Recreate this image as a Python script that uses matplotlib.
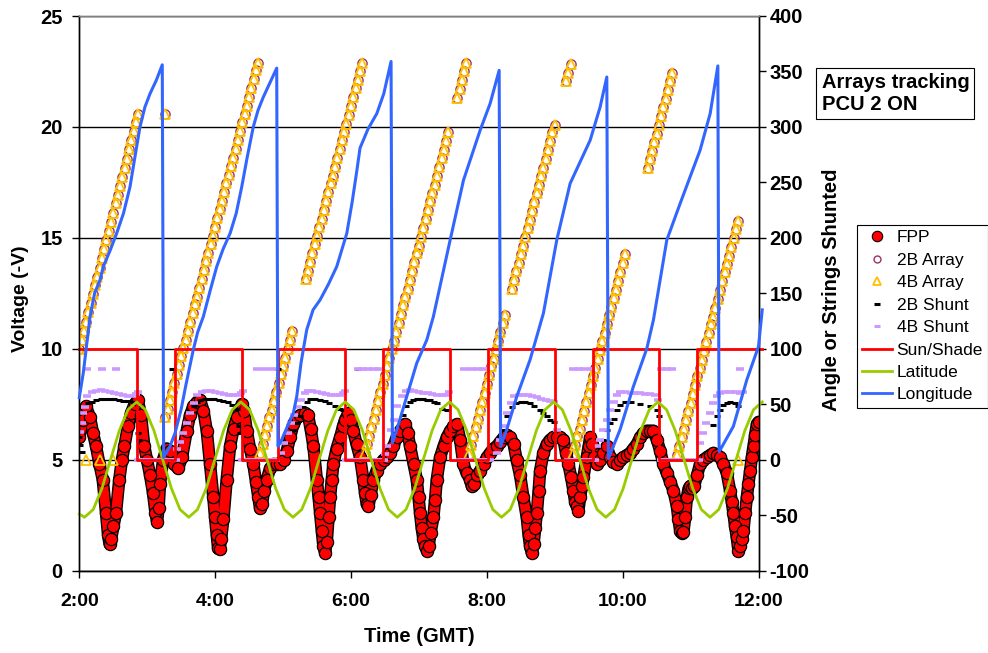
import numpy as np
import matplotlib
matplotlib.use("Agg")
import matplotlib.pyplot as plt
from matplotlib.lines import Line2D
import matplotlib.patheffects as pe

plt.rcParams['font.family'] = ['Liberation Sans', 'DejaVu Sans']
plt.rcParams['font.weight'] = 'bold'
plt.rcParams['axes.unicode_minus'] = False

# ---------------- data (time = minutes after 02:00 GMT) ----------------
x_ticks_h = [2, 4, 6, 8, 10, 12]
x_tick_labels = ["2:00", "4:00", "6:00", "8:00", "10:00", "12:00"]
volt_ticks = [0, 5, 10, 15, 20, 25]
angle_ticks = [-100, -50, 0, 50, 100, 150, 200, 250, 300, 350, 400]

# FPP voltage (-V)
fpp_points = [
    (0.0, 6.0), (3.3, 6.8), (5.9, 7.4), (9.5, 6.9), (12.1, 6.2), (14.8, 5.6), (17.8, 4.8),
    (20.7, 4.1), (23.6, 2.6), (25.4, 1.6), (26.7, 1.2), (28.0, 1.4), (30.2, 2.0), (32.4, 2.6),
    (35.3, 4.1), (37.7, 5.0), (39.8, 5.6), (43.0, 6.5), (45.7, 7.1), (48.8, 7.5), (51.6, 7.7),
    (54.5, 7.0), (57.4, 5.6), (59.8, 5.0), (62.5, 4.3), (65.1, 3.5), (67.3, 2.6), (68.7, 2.2),
    (70.0, 2.8), (71.3, 3.9), (74.0, 5.0), (77.1, 5.5), (80.1, 5.4), (83.7, 4.8), (87.2, 4.6),
    (90.7, 5.1), (94.9, 6.3), (97.8, 7.0), (100.7, 7.4), (104.0, 7.6), (106.6, 7.7), (109.7, 7.2),
    (112.6, 6.3), (115.5, 4.8), (118.4, 3.3), (119.9, 2.4), (121.4, 1.6), (122.6, 1.0), (123.9, 0.95),
    (125.2, 1.4), (127.2, 2.3), (130.2, 4.1), (133.2, 5.6), (136.3, 6.4), (139.1, 6.9), (143.5, 7.5),
    (145.5, 7.2), (147.9, 6.3), (150.8, 5.5), (153.7, 4.8), (156.1, 4.0), (158.2, 3.3), (159.7, 2.8),
    (161.4, 3.0), (163.2, 3.6), (165.6, 4.1), (168.5, 4.6), (171.4, 4.8), (174.7, 4.8), (177.3, 4.8),
    (180.4, 5.0), (183.3, 5.4), (186.2, 6.0), (189.1, 6.6), (192.4, 6.9), (195.0, 7.0), (199.5, 7.1),
    (202.1, 7.0), (204.3, 6.4), (206.8, 5.6), (209.8, 4.1), (211.4, 3.3), (212.7, 2.6), (214.2, 1.8),
    (215.6, 1.1), (217.1, 0.8), (218.6, 1.3), (220.2, 2.4), (221.5, 3.3), (223.0, 4.1), (224.4, 4.8),
    (227.3, 5.5), (230.4, 6.0), (233.0, 6.5), (234.8, 6.8), (237.7, 7.1), (240.1, 6.8), (242.1, 6.3),
    (244.9, 5.7), (248.0, 5.1), (250.9, 4.1), (252.4, 3.5), (253.9, 3.0), (255.4, 2.9), (257.3, 3.4),
    (259.8, 4.1), (262.6, 4.5), (265.7, 4.8), (268.8, 5.0), (271.6, 5.1), (274.5, 5.3), (277.5, 5.6),
    (280.3, 6.0), (283.4, 6.3), (287.8, 6.6), (290.0, 6.2), (292.2, 5.6), (295.3, 4.8), (298.1, 4.1),
    (299.7, 3.3), (301.0, 2.6), (302.5, 1.9), (304.0, 1.4), (305.5, 1.1), (307.0, 0.9), (308.6, 1.1),
    (310.3, 1.7), (312.8, 2.4), (314.3, 3.2), (315.8, 4.1), (318.7, 5.1), (321.8, 5.6), (324.6, 6.0),
    (327.6, 6.3), (330.5, 6.5), (333.5, 6.6), (336.4, 5.9), (339.3, 4.8), (342.1, 4.4), (345.2, 4.1),
    (346.7, 3.8), (348.8, 3.9), (351.4, 4.3), (354.1, 4.5), (357.2, 4.8), (360.0, 5.1), (362.9, 5.3),
    (365.8, 5.5), (368.8, 5.6), (371.7, 5.8), (374.8, 6.0), (377.9, 6.1), (380.6, 6.0), (383.7, 5.7),
    (386.3, 5.0), (389.4, 4.3), (392.3, 3.3), (395.3, 2.4), (396.9, 1.6), (398.2, 1.1), (399.7, 0.8),
    (401.3, 1.2), (402.7, 1.9), (404.2, 2.6), (405.8, 3.6), (407.1, 4.5), (410.0, 5.3), (413.0, 5.7),
    (415.9, 5.9), (418.8, 6.0), (421.8, 6.0), (424.7, 6.0), (427.7, 5.9), (430.0, 5.3), (432.1, 4.8),
    (434.5, 4.2), (436.5, 3.6), (438.0, 3.1), (439.5, 2.9), (440.9, 2.7), (442.4, 3.3), (443.9, 3.8),
    (445.3, 4.2), (448.3, 5.1), (449.9, 5.6), (451.3, 6.0), (453.0, 5.7), (454.8, 5.1), (457.2, 4.8),
    (460.1, 5.0), (463.0, 5.3), (466.0, 5.6), (468.9, 5.1), (471.8, 4.9), (474.8, 4.8), (477.7, 5.0),
    (480.7, 5.1), (483.7, 5.2), (486.6, 5.3), (489.5, 5.5), (492.5, 5.7), (495.4, 6.0), (498.4, 6.2),
    (501.3, 6.3), (504.3, 6.3), (507.2, 6.3), (510.2, 5.9), (513.1, 5.4), (516.0, 4.8), (519.0, 4.4),
    (521.9, 4.0), (524.9, 3.6), (527.9, 2.9), (529.3, 2.3), (530.8, 1.8), (532.3, 1.7), (533.7, 1.75),
    (535.2, 2.4), (536.7, 3.3), (538.3, 3.7), (539.6, 3.8), (541.4, 3.7), (543.1, 3.8), (545.8, 4.3),
    (548.4, 4.8), (551.4, 5.0), (554.4, 5.1), (557.3, 5.2), (560.2, 5.3), (563.2, 5.2), (566.1, 5.1),
    (569.0, 4.8), (572.0, 4.4), (574.9, 3.6), (576.4, 3.1), (577.8, 2.6), (579.3, 2.0), (580.8, 1.5),
    (582.3, 0.9), (583.8, 1.1), (585.3, 1.4), (586.7, 1.8), (588.2, 2.6), (589.7, 3.3), (591.1, 3.9),
    (592.6, 4.5), (594.1, 5.1), (595.6, 5.6), (597.0, 6.1), (598.6, 6.6), (600.0, 6.7),
]

# Array angles (deg), telemetry every 2 minutes, visible segments
array_step_min = 2
array_seg_start = [0, 76, 160, 200, 252, 334, 344, 382, 430, 436, 502, 528]
array_seg_deg = [
    [100, 108, 116, 124, 133, 141, 149, 157, 165, 173, 182, 190, 198, 206, 214, 222, 231, 239,
     247, 255, 263, 271, 280, 288, 296, 304, 312],
    [38, 46, 54, 61, 69, 77, 85, 93, 101, 108, 116, 124, 132, 140, 147, 155, 163, 171, 179, 186,
     194, 202, 210, 218, 226, 233, 241, 249, 257, 265, 272, 280, 288, 296, 304, 312, 319, 327,
     335, 343, 351, 358],
    [6, 14, 22, 30, 38, 45, 53, 61, 69, 77, 84, 92, 100, 108, 116],
    [163, 170, 178, 186, 194, 202, 210, 217, 225, 233, 241, 249, 256, 264, 272, 280, 288, 295,
     303, 311, 319, 327, 335, 342, 350, 358],
    [6, 14, 21, 29, 37, 45, 53, 61, 68, 76, 84, 92, 100, 107, 115, 123, 131, 139, 147, 154, 162,
     170, 178, 186, 193, 201, 209, 217, 225, 233, 240, 248, 256, 264, 272, 279, 287, 295],
    [326, 334, 342, 350, 358],
    [5, 13, 21, 29, 37, 45, 52, 60, 68, 76, 84, 91, 99, 107, 115, 123, 130],
    [154, 162, 170, 177, 185, 193, 201, 209, 216, 224, 232, 240, 248, 256, 263, 271, 279, 287,
     295, 302],
    [341, 349, 357],
    [5, 13, 21, 28, 36, 44, 52, 60, 67, 75, 83, 91, 99, 107, 114, 122, 130, 138, 146, 153, 161,
     169, 177, 185],
    [263, 271, 278, 286, 294, 302, 310, 318, 325, 333, 341, 349],
    [4, 12, 20, 28, 36, 44, 51, 59, 67, 75, 83, 90, 98, 106, 114, 122, 129, 137, 145, 153, 161,
     169, 176, 184, 192, 200, 208, 215],
]
array_2b_extra = [(75.7, 312)]
array_4b_extra = [(5.9, 0), (18.6, 0), (29.5, 0), (75.7, 312), (582.3, 0)]

# Strings shunted
shunt_2b = [
    (0, 20), (1, 13), (2, 7), (5, 48), (8, 51), (11, 52), (15, 54), (19, 55), (23, 55), (27, 55),
    (31, 55), (35, 54), (39, 53), (43, 53), (47, 52), (50, 51), (52, 24), (53, 18),
    (81.6, 82),
    (98, 42), (101, 48), (104, 52), (107, 54), (111, 55), (115, 55), (119, 55), (123, 54),
    (127, 53), (131, 52), (135, 49), (139, 46), (141, 30), (142, 24),
    (175.8, 82),
    (189, 27), (192, 33), (195, 39), (198, 47), (201, 52), (204, 55), (208, 55), (213, 54),
    (217, 53), (221, 51), (226, 48), (230, 46), (233, 45),
    (246.5, 82),
    (286, 40), (289, 48), (292, 52), (295, 54), (298, 55), (301, 55), (304, 55), (307, 54),
    (310, 54), (313, 52), (316, 51), (320, 46), (325, 45),
    (375, 27), (378, 39), (382, 47), (386, 51), (390, 52), (394, 52), (398, 51), (402, 48),
    (407, 45), (410, 42), (413, 39), (416, 36), (419, 34),
    (463, 18), (466, 27), (469, 33), (472, 37), (475, 45), (478, 49), (482, 52), (487, 52),
    (495, 50), (504, 48), (510, 45), (512, 39),
    (560, 31), (563, 39), (566, 45), (569, 49), (572, 51), (575, 52), (579, 51), (582, 48),
]
shunt_4b = [
    (1, 25), (2, 33), (3.5, 42), (5, 47), (7, 57), (11, 61), (15, 62), (19, 63), (23, 62),
    (27, 61), (31, 60), (35, 59), (39, 58), (43, 57), (47, 57), (50, 59), (52, 61),
    (7, 82), (20, 82), (32, 82),
    (86, 10), (89, 16), (92, 24), (95, 33), (98, 42), (101, 51), (104, 58), (108, 61), (112, 62),
    (116, 62), (120, 61), (124, 60), (128, 59), (132, 58), (136, 58), (140, 58), (143, 60),
    (145, 62),
    (157, 82), (164, 82), (171, 82),
    (178, 6), (181, 15), (184, 24), (187, 33), (190, 40), (193, 47), (196, 54), (199, 60),
    (202, 62), (206, 62), (210, 61), (214, 60), (218, 59), (222, 58), (226, 58), (230, 58),
    (233, 60), (235, 62),
    (246, 82), (250, 82), (255, 82), (260, 82), (265, 82),
    (270, 5), (272, 12), (275, 27), (278, 36), (281, 48), (285, 57), (289, 62), (292, 63),
    (296, 62), (300, 61), (304, 60), (308, 60), (312, 59), (316, 58), (320, 58), (324, 58),
    (327, 61),
    (340, 82), (346, 82), (352, 82), (357, 82),
    (369, 6), (372, 18), (375, 30), (378, 42), (381, 51), (384, 57), (388, 58), (392, 58),
    (396, 58), (400, 57), (404, 56), (408, 55), (412, 54), (416, 53), (419, 52), (422, 27),
    (436, 82), (441, 82), (446, 82), (452, 82),
    (457, 12), (460, 18), (463, 27), (466, 36), (469, 45), (472, 52), (475, 58), (478, 61),
    (482, 61), (487, 60), (491, 60), (495, 60), (500, 59), (504, 59), (509, 58), (511, 54),
    (514, 82), (519, 82), (524, 82),
    (548, 15), (551, 24), (554, 33), (557, 42), (560, 51), (563, 57), (566, 60), (570, 61),
    (575, 61), (579, 61), (584, 60), (586, 61), (584, 82),
]
shunt_4b_zero_min = [
    52, 55, 58, 61, 64, 67, 70, 73, 76, 79, 82, 85,
    144, 147, 150, 153, 156, 159, 162, 165, 168, 171, 174,
    236, 239, 242, 245, 248, 251, 254, 257, 260, 263, 266, 269,
    336, 339, 342, 345, 348, 351, 354, 357, 360, 363,
    432, 435, 438, 441, 444, 447, 450, 453, 456,
    514, 517, 520, 523, 526, 529, 532, 535, 538, 541, 544, 547,
]

# Sun / shade (100 = sun, 0 = shade), value holds until next time
sun_min = [0, 51.2, 84.6, 143.5, 175.8, 234.8, 268.6, 327.6, 361.4, 420.4, 453.6, 512.5, 545.5, 603.0]
sun_val = [100, 0, 100, 0, 100, 0, 100, 0, 100, 0, 100, 0, 100, 100]

# Latitude (deg)
lat_min = [0, 4.6, 12.3, 20.0, 27.6, 35.3, 43.0, 50.7, 58.3, 66.0, 73.7, 81.4, 89.0, 96.7,
           104.4, 112.1, 119.7, 127.4, 135.1, 142.7, 150.4, 158.1, 165.8, 173.5, 181.1, 188.8,
           196.5, 204.2, 211.8, 219.5, 227.2, 234.9, 242.5, 250.2, 257.9, 265.6, 273.2, 280.9,
           288.6, 296.3, 303.9, 311.6, 319.3, 327.0, 334.6, 342.3, 350.0, 357.7, 365.3, 373.0,
           380.7, 388.4, 396.0, 403.7, 411.4, 419.1, 426.7, 434.4, 442.1, 449.8, 457.4, 465.1,
           472.8, 480.5, 488.1, 495.8, 503.5, 511.2, 518.8, 526.5, 534.2, 541.9, 549.5, 557.2,
           564.9, 572.6, 580.2, 587.9, 595.6, 603.3]
lat_deg = [-49,
           -52, -45, -26, 0, 26, 45, 52, 45, 26, 0, -26, -45,
           -52, -45, -26, 0, 26, 45, 52, 45, 26, 0, -26, -45,
           -52, -45, -26, 0, 26, 45, 52, 45, 26, 0, -26, -45,
           -52, -45, -26, 0, 26, 45, 52, 45, 26, 0, -26, -45,
           -52, -45, -26, 0, 26, 45, 52, 45, 26, 0, -26, -45,
           -52, -45, -26, 0, 26, 45, 52, 45, 26, 0, -26, -45,
           -52, -45, -26, 0, 26, 45, 52]

# Longitude (deg)
lon_points = [
    (0, 56), (3.5, 78), (9.5, 129), (13.5, 150), (18.3, 162), (21.2, 174), (27, 188), (33, 204),
    (39, 222), (44.8, 246), (49, 272), (53.6, 300), (58, 318), (62.5, 330), (68, 342), (73.3, 356),
    (74.5, 2), (80.1, 12), (84.6, 24), (89.9, 45), (94.3, 68), (100.7, 99), (104.6, 115),
    (109.6, 129), (115.5, 152), (121.4, 174), (127.1, 190), (133.2, 204), (138.6, 222),
    (143.5, 246), (148.2, 272), (153.7, 300), (157.9, 315), (162.6, 327), (168.5, 340),
    (174.4, 353), (175.5, 12), (178, 16), (183, 28), (189.1, 42), (192.1, 57), (196, 88),
    (200.9, 117), (206.5, 135), (212.7, 144), (220, 158), (227.4, 174), (236.3, 204), (241, 232),
    (245.1, 260), (248, 281), (255, 298), (262.8, 312), (269, 330), (275.4, 359), (276.6, 15),
    (280.5, 27), (289.3, 57), (298.1, 87), (307, 108), (312.8, 129), (327.6, 198), (339.4, 252),
    (354.1, 297), (362.9, 321), (370.9, 351), (372.2, 12), (377.6, 27), (386.5, 57), (398.2, 90),
    (410, 132), (421.8, 198), (433.6, 249), (451.3, 288), (460.1, 318), (466, 345), (467.4, 1),
    (477.7, 27), (489.5, 66), (501.3, 100), (507.2, 126), (519, 198), (530.8, 231), (548.4, 279),
    (557.3, 312), (564.1, 355), (565.2, 7), (577.8, 30), (589.7, 72), (600, 102), (603.3, 135),
]

# ---------------- figure ----------------
def hrs(m):
    return 2 + np.asarray(m, dtype=float) / 60.0

C_FPP = '#FF0000'
C_2B = '#993366'
C_4B = '#FFC000'
C_4BS = '#CC99FF'
C_SUN = '#FF0000'
C_LAT = '#99CC00'
C_LON = '#3366FF'

fig = plt.figure(figsize=(9.88, 6.53), dpi=100)
W, H = 988.0, 653.0
ax = fig.add_axes([79.3 / W, (H - 570.5) / H, (758.5 - 79.3) / W, (570.5 - 16) / H])
ax2 = ax.twinx()

ax.set_xlim(2, 12)
ax.set_ylim(0, 25)
ax2.set_ylim(-100, 400)

# grid
ax.set_yticks(volt_ticks)
ax.yaxis.grid(True, color='black', lw=1.0)
ax.set_axisbelow(True)

# FPP (primary axis)
fm = [p[0] for p in fpp_points]
fv = [p[1] for p in fpp_points]
ax.plot(hrs(fm), fv, color=C_FPP, lw=7.0, solid_capstyle='round', solid_joinstyle='round',
        path_effects=[pe.Stroke(linewidth=9.0, foreground='black'), pe.Normal()], zorder=2)
ax.plot(hrs(fm), fv, ls='none', marker='o', ms=8.8, mfc=C_FPP, mec='black', mew=0.9, zorder=3)

# Arrays (secondary axis)
for start, vals in zip(array_seg_start, array_seg_deg):
    mins = [start + array_step_min * i for i in range(len(vals))]
    ax2.plot(hrs(mins), vals, ls='none', marker='o', ms=6.6, mfc='none', mec=C_2B, mew=1.0,
             zorder=2)
    ax2.plot(hrs(mins), vals, ls='none', marker='^', ms=7.2, mfc='none', mec=C_4B, mew=1.3,
             zorder=2.1)
ax2.plot(hrs([p[0] for p in array_2b_extra]), [p[1] for p in array_2b_extra], ls='none',
         marker='o', ms=6.6, mfc='none', mec=C_2B, mew=1.0, zorder=2)
ax2.plot(hrs([p[0] for p in array_4b_extra]), [p[1] for p in array_4b_extra], ls='none',
         marker='^', ms=7.2, mfc='none', mec=C_4B, mew=1.3, zorder=2.1)

# Shunts
ax2.plot(hrs([p[0] for p in shunt_2b]), [p[1] for p in shunt_2b], ls='none', marker='_',
         ms=4.5, mec='black', mew=2.2, zorder=2.2)
ax2.plot(hrs([p[0] for p in shunt_4b]), [p[1] for p in shunt_4b], ls='none', marker='_',
         ms=5.5, mec=C_4BS, mew=2.6, zorder=2.3)
ax2.plot(hrs(shunt_4b_zero_min), [0] * len(shunt_4b_zero_min), ls='none', marker='_',
         ms=5.5, mec=C_4BS, mew=2.6, zorder=2.3)

# Sun/Shade, Latitude, Longitude
ax2.plot(hrs(sun_min), sun_val, color=C_SUN, lw=2.0, drawstyle='steps-post', zorder=2.4,
         clip_on=False)
ax2.plot(hrs(lat_min), lat_deg, color=C_LAT, lw=2.0, zorder=2.5, clip_on=False)
ax2.plot(hrs([p[0] for p in lon_points]), [p[1] for p in lon_points], color=C_LON, lw=2.2,
         zorder=2.6, clip_on=False)

# ticks
ax.set_xticks(x_ticks_h)
ax.set_xticklabels(x_tick_labels)
ax2.set_yticks(angle_ticks)
ax.tick_params(axis='x', direction='out', length=5, width=1, labelsize=14, pad=11)
ax.tick_params(axis='y', direction='out', length=5, width=1, labelsize=14.5, pad=7)
ax2.tick_params(axis='y', direction='out', length=5, width=1, labelsize=14.5, pad=3)

for a in (ax, ax2):
    for s in a.spines.values():
        s.set_linewidth(1.0)
        s.set_color('black')
    a.spines['top'].set_color('#808080')

ax.set_xlabel('Time (GMT)', fontsize=14.5, fontweight='bold', va='center')
ax.xaxis.set_label_coords(0.5, -0.119)
ax.set_ylabel('Voltage (-V)', fontsize=14, fontweight='bold', va='center', ha='center')
ax.yaxis.set_label_coords(-0.087, 0.49)
ax2.set_ylabel('Angle or Strings Shunted', fontsize=14.5, fontweight='bold', va='center',
               ha='center', rotation=90)
ax2.yaxis.set_label_coords(1.108, 0.506)

# legend
handles = [
    Line2D([], [], ls='none', marker='o', ms=7.5, mfc=C_FPP, mec='black', mew=0.8),
    Line2D([], [], ls='none', marker='o', ms=5.0, mfc='none', mec=C_2B, mew=1.0),
    Line2D([], [], ls='none', marker='^', ms=5.5, mfc='none', mec=C_4B, mew=1.3),
    Line2D([], [], ls='none', marker='_', ms=4.0, mec='black', mew=2.2),
    Line2D([], [], ls='none', marker='_', ms=4.0, mec=C_4BS, mew=2.2),
    Line2D([], [], color=C_SUN, lw=2.0),
    Line2D([], [], color=C_LAT, lw=2.0),
    Line2D([], [], color=C_LON, lw=2.0),
]
labels = ['FPP', '2B Array', '4B Array', '2B Shunt', '4B Shunt', 'Sun/Shade', 'Latitude',
          'Longitude']
leg = fig.legend(handles, labels, loc='upper left', bbox_to_anchor=(856.7 / W, 1 - 225 / H),
                 borderaxespad=0, frameon=True, fancybox=False, edgecolor='black',
                 framealpha=1, handlelength=1.75, handletextpad=0.25, borderpad=0.3,
                 labelspacing=0.42, prop={'size': 12.5, 'weight': 'normal'})
leg.get_frame().set_linewidth(0.8)

fig.text(821.5 / W, 1 - 93.4 / H, 'Arrays tracking\nPCU 2 ON', fontsize=14.5,
         fontweight='bold', va='center', ha='left',
         bbox=dict(boxstyle='square,pad=0.25', fc='white', ec='black', lw=0.8))

fig.savefig('out.png', dpi=100)
